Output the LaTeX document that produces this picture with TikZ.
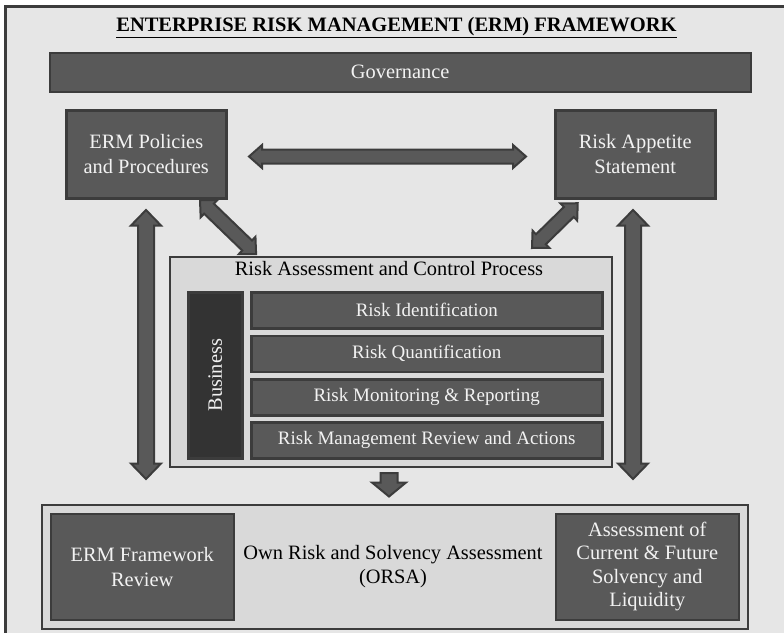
\documentclass[tikz,border=0pt]{standalone}
\usepackage{fontspec}
\setmainfont{Liberation Serif}
\definecolor{bgc}{HTML}{E6E6E6}
\definecolor{edgec}{HTML}{3C3C3C}
\definecolor{darkc}{HTML}{595959}
\definecolor{lightc}{HTML}{D9D9D9}
\definecolor{bizc}{HTML}{333333}
\definecolor{txtw}{HTML}{F2F2F2}
\tikzset{
  darkbox/.style={draw=edgec, fill=darkc, line width=2.5pt, text=txtw, align=center,
    inner sep=0pt, anchor=north west, font=\fontsize{20.4}{25}\selectfont},
  rowbox/.style={darkbox, minimum width=351pt, minimum height=36pt, font=\fontsize{19}{22}\selectfont},
  lightbox/.style={draw=edgec, fill=lightc, line width=2.5pt, inner sep=0pt, anchor=north west},
  blockarrow/.style={draw=edgec, fill=darkc, line width=2pt, line join=miter},
  plain/.style={text=black, align=center, font=\fontsize{20.4}{24}\selectfont}
}
\newcommand\dblarrow[7]{%
  \begin{scope}[shift={(#1,#2)},rotate=#3]
    \draw[blockarrow] (0,0) -- (#7,#6) -- (#7,#5) -- ({#4-#7},#5) -- ({#4-#7},#6) -- (#4,0)
      -- ({#4-#7},-#6) -- ({#4-#7},-#5) -- (#7,-#5) -- (#7,-#6) -- cycle;
  \end{scope}}
\begin{document}
\begin{tikzpicture}[x=1pt,y=-1pt]
\useasboundingbox (0,0) rectangle (784,632);
\clip (0,0) rectangle (784,632);
\fill[white] (0,0) rectangle (784,632);
% outer frame
\draw[draw=edgec, fill=bgc, line width=3pt] (5.5,6.5) rectangle (800,650);
% title
\node[plain, font=\fontsize{20.5}{24}\selectfont\bfseries] (title) at (396.5,28) {\underline{ENTERPRISE RISK MANAGEMENT (ERM) FRAMEWORK}};
% governance
\node[darkbox, minimum width=701pt, minimum height=39pt] (gov) at (48.5,51.5) {Governance};
% top boxes
\node[darkbox, minimum width=160pt, minimum height=88pt] (pol) at (65,109) {ERM Policies\\and Procedures};
\node[darkbox, minimum width=160pt, minimum height=88pt] (app) at (554,109) {Risk Appetite\\Statement};
% risk assessment
\node[lightbox, minimum width=442pt, minimum height=210pt] (ra) at (168.5,255.5) {};
\node[plain] (ratitle) at (389,269) {Risk Assessment and Control Process};
\node[darkbox, fill=bizc, minimum width=54pt, minimum height=166pt] (biz) at (187,291) {};
\node[text=txtw, rotate=90, font=\fontsize{20.4}{24}\selectfont] (biztxt) at (biz.center) {Business};
\node[rowbox] (r1) at (250,291) {Risk Identification};
\node[rowbox] (r2) at (250,334.5) {Risk Quantification};
\node[rowbox] (r3) at (250,378) {Risk Monitoring \& Reporting};
\node[rowbox] (r4) at (250,421) {Risk Management Review and Actions};
% ORSA
\node[lightbox, minimum width=706pt, minimum height=124pt] (orsa) at (40.5,503.5) {};
\node[plain] (orsatxt) at (393,567) {Own Risk and Solvency Assessment\\(ORSA)};
\node[darkbox, minimum width=183pt, minimum height=106pt] (fr) at (49.5,512.5) {ERM Framework\\Review};
\node[darkbox, minimum width=183pt, minimum height=106pt, font=\fontsize{20.4}{23.5}\selectfont] (sol) at (554.5,512.5) {Assessment of\\Current \& Future\\Solvency and\\Liquidity};
% arrows
\dblarrow{249}{156.5}{0}{277}{7}{11.5}{13}
\dblarrow{146}{210}{-90}{269}{8}{15}{15.5}
\dblarrow{633}{210}{-90}{269}{8}{15}{15.5}
\dblarrow{200}{200}{-44}{78}{7}{12}{12.5}
\dblarrow{532}{248}{44.4}{64}{7}{12}{12.5}
\draw[blockarrow] (380.5,473) -- (397.5,473) -- (397.5,482.5) -- (406,482.5) -- (389,496.5)
  -- (372,482.5) -- (380.5,482.5) -- cycle;
\end{tikzpicture}
\end{document}
